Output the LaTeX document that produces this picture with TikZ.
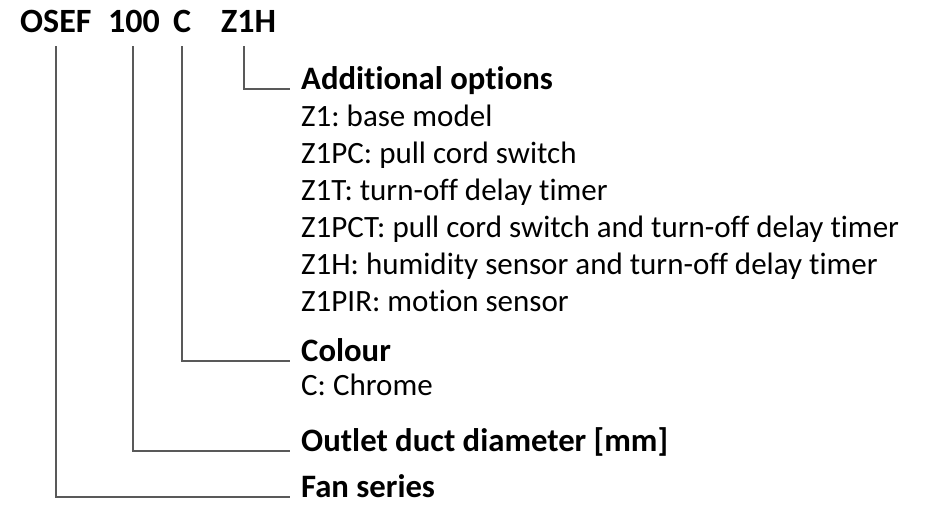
\documentclass[tikz,border=0pt]{standalone}
\usepackage{fontspec}
\setmainfont{Carlito}[Ligatures=NoCommon]
\frenchspacing
\begin{document}
\begin{tikzpicture}[x=1pt,y=-1pt,
  hdr/.style={anchor=base west,inner sep=0pt,font=\fontsize{34}{34}\selectfont\bfseries},
  ttl/.style={anchor=base west,inner sep=0pt,font=\fontsize{32.7}{33}\selectfont\bfseries},
  opt/.style={anchor=base west,inner sep=0pt,font=\fontsize{31}{31}\selectfont},
  lead/.style={draw=black!65,line width=1.2pt}]
\useasboundingbox (0,0) rectangle (936,515);
% header
\node[hdr] (osef) at (20,32) {OSEF};
\node[hdr] (d100) at (108,32) {100};
\node[hdr] (col) at (173,32) {C};
\node[hdr] (z1h) at (221,32) {Z1H};
% descriptions
\node[ttl] (addt) at (301,89) {Additional options};
\node[opt] (o1) at (301,126) {Z1: base model};
\node[opt] (o2) at (301,163) {Z1PC: pull cord switch};
\node[opt] (o3) at (301,200) {Z1T: turn-off delay timer};
\node[opt] (o4) at (301,237) {Z1PCT: pull cord switch and turn-off delay timer};
\node[opt] (o5) at (301,274) {Z1H: humidity sensor and turn-off delay timer};
\node[opt] (o6) at (301,311) {Z1PIR: motion sensor};
\node[ttl] (colt) at (301,361) {Colour};
\node[opt] (c1) at (301,395) {C: Chrome};
\node[ttl] (outt) at (301,451) {Outlet duct diameter [mm]};
\node[ttl] (fant) at (301,497) {Fan series};
% leader anchors
\coordinate (p1) at (56,46);
\coordinate (p2) at (133,46);
\coordinate (p3) at (182,46);
\coordinate (p4) at (244,46);
\draw[lead] (p1) |- ([xshift=-11pt]fant.base west);
\draw[lead] (p2) |- ([xshift=-11pt]outt.base west);
\draw[lead] (p3) |- ([xshift=-11pt]colt.base west);
\draw[lead] (p4) |- ([xshift=-11pt]addt.base west);
\end{tikzpicture}
\end{document}
